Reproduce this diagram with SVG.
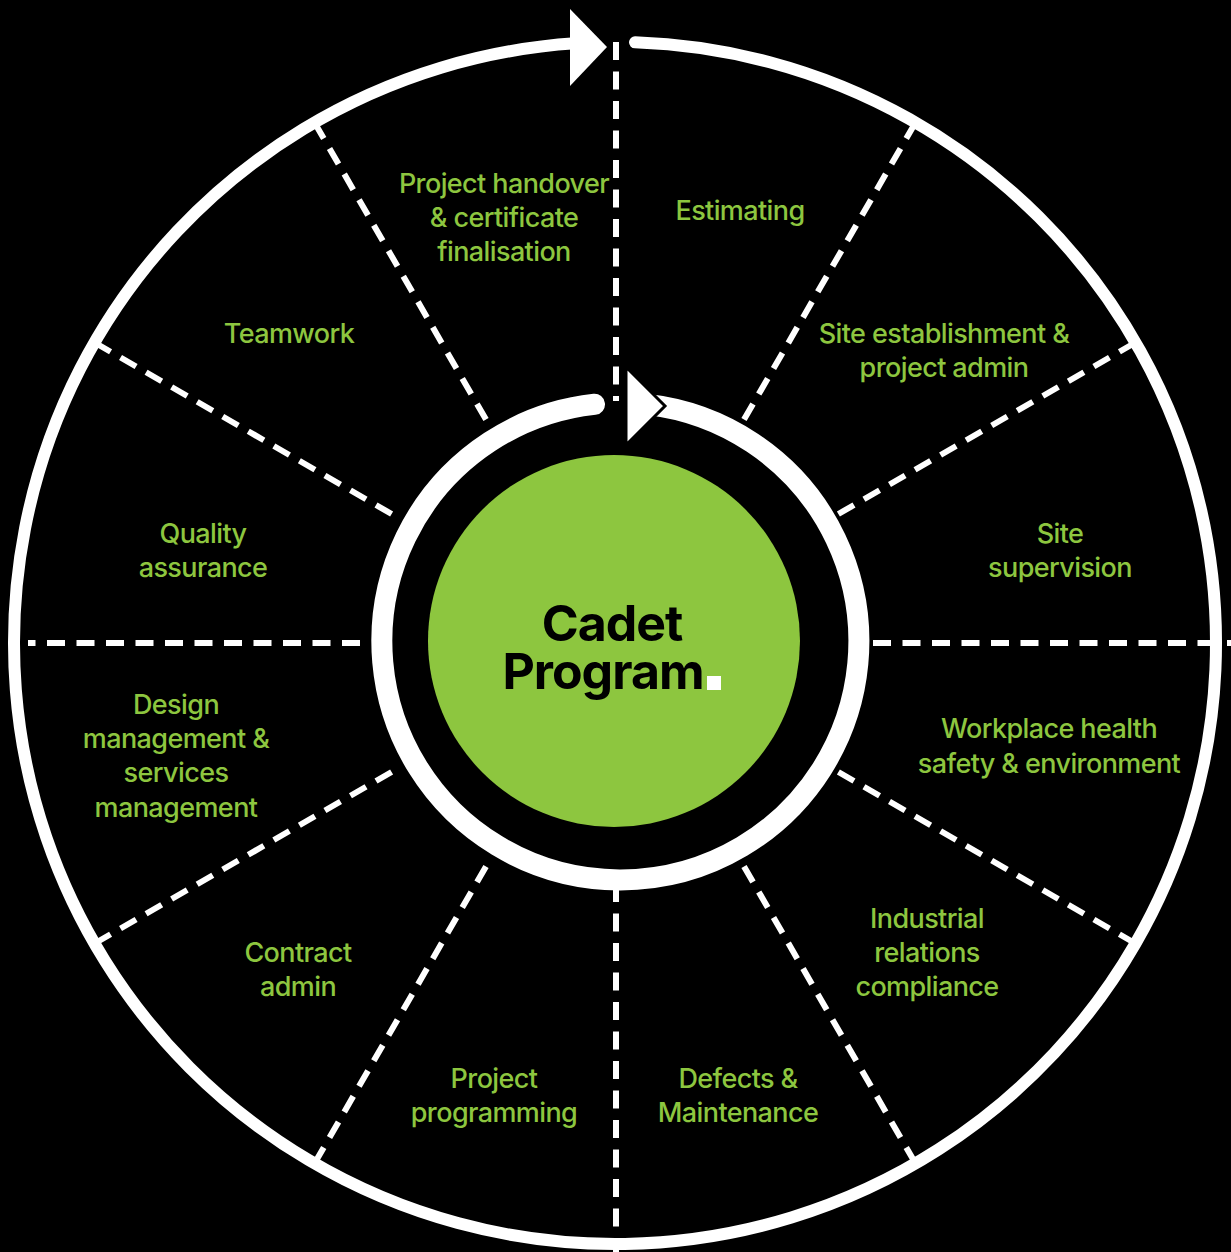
<svg xmlns="http://www.w3.org/2000/svg" width="1231" height="1252" viewBox="0 0 1231 1252">
<style>
.lbl{font-family:Inter,"Noto Sans","Liberation Sans",sans-serif;font-weight:500;font-size:27px;letter-spacing:-0.6px;fill:#8dc63f;text-anchor:middle}
.title{font-family:Inter,"Noto Sans","Liberation Sans",sans-serif;font-weight:700;font-size:50px;letter-spacing:-1px;fill:#000;text-anchor:middle}
.div{stroke:#fff;stroke-width:6;stroke-dasharray:18 11.5;fill:none}
.ring{stroke:#fff;fill:none}
</style>
<rect width="1231" height="1252" fill="#000"/>
<g id="connectors">
<line class="div" x1="616" y1="42" x2="616" y2="401"/>
<line class="div" x1="744" y1="419.6" x2="913.5" y2="126"/>
<line class="div" x1="838.4" y1="514" x2="1132" y2="344.5"/>
<line class="div" x1="873" y1="643" x2="1231" y2="643"/>
<line class="div" x1="838.4" y1="772" x2="1132" y2="941.5"/>
<line class="div" x1="744" y1="866.4" x2="913.5" y2="1160"/>
<line class="div" x1="616" y1="884" x2="616" y2="1252"/>
<line class="div" x1="486" y1="866.4" x2="316.5" y2="1160"/>
<line class="div" x1="391.6" y1="772" x2="98" y2="941.5"/>
<line class="div" x1="360" y1="643" x2="28" y2="643"/>
<line class="div" x1="391.6" y1="514" x2="98" y2="344.5"/>
<line class="div" x1="486" y1="419.6" x2="316.5" y2="126"/>
</g>
<g id="outer-cycle">
<path class="ring" d="M 635 42.3 A 601 601 0 1 1 575 43.3" stroke-width="12" stroke-linecap="round"/>
<polygon points="570,9 570,86 607,47" fill="#fff"/>
</g>
<g id="inner-cycle">
<path class="ring" d="M 648 404.5 A 238.5 238.5 0 1 1 594.5 404.3" stroke-width="21" stroke-linecap="round"/>
<polygon points="626,367 626,445 665,406" fill="#fff" stroke="#000" stroke-width="3"/>
</g>
<g id="center">
<circle cx="614" cy="641" r="186" fill="#8dc63f"/>
<text class="title" x="612" y="641">Cadet</text>
<text class="title" x="603" y="689">Program</text>
<rect x="707" y="676" width="14" height="14" fill="#fff"/>
</g>
<g id="estimating"><text class="lbl" x="740" y="220">Estimating</text></g>
<g id="handover"><text class="lbl" x="504" y="193">Project handover</text><text class="lbl" x="504" y="227">&amp; certificate</text><text class="lbl" x="504" y="261">finalisation</text></g>
<g id="teamwork"><text class="lbl" x="289" y="343">Teamwork</text></g>
<g id="site-establishment"><text class="lbl" x="944" y="343">Site establishment &amp;</text><text class="lbl" x="944" y="377">project admin</text></g>
<g id="quality"><text class="lbl" x="203" y="543">Quality</text><text class="lbl" x="203" y="577">assurance</text></g>
<g id="site-supervision"><text class="lbl" x="1060" y="543">Site</text><text class="lbl" x="1060" y="577">supervision</text></g>
<g id="design"><text class="lbl" x="176" y="714">Design</text><text class="lbl" x="176" y="748">management &amp;</text><text class="lbl" x="176" y="782">services</text><text class="lbl" x="176" y="817">management</text></g>
<g id="whse"><text class="lbl" x="1049" y="738">Workplace health</text><text class="lbl" x="1049" y="773">safety &amp; environment</text></g>
<g id="contract"><text class="lbl" x="298" y="962">Contract</text><text class="lbl" x="298" y="996">admin</text></g>
<g id="industrial"><text class="lbl" x="927" y="928">Industrial</text><text class="lbl" x="927" y="962">relations</text><text class="lbl" x="927" y="996">compliance</text></g>
<g id="programming"><text class="lbl" x="494" y="1088">Project</text><text class="lbl" x="494" y="1122">programming</text></g>
<g id="defects"><text class="lbl" x="738" y="1088">Defects &amp;</text><text class="lbl" x="738" y="1122">Maintenance</text></g>
</svg>
